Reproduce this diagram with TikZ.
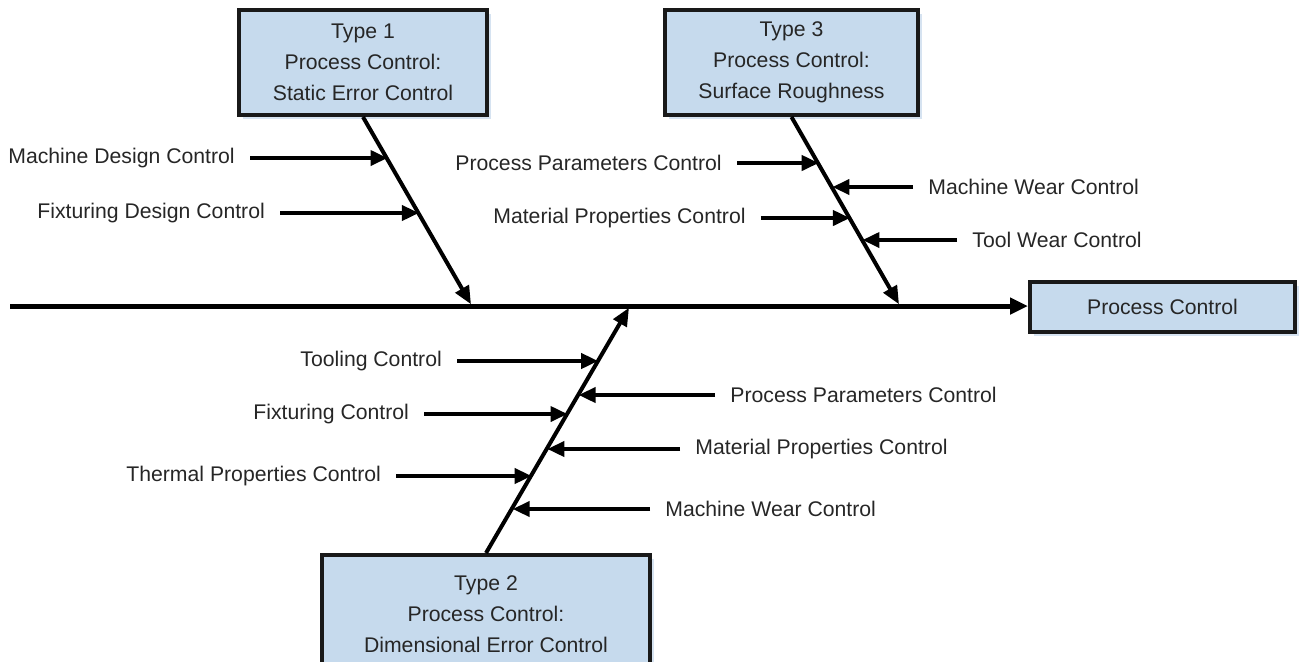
\documentclass[tikz,border=0pt]{standalone}
\usepackage{fontspec}
\setmainfont{Liberation Sans}
\usetikzlibrary{arrows.meta, positioning, calc, shadows}

\definecolor{boxblue}{RGB}{198,218,237}
\definecolor{shadeblue}{RGB}{214,227,241}

\begin{document}
\begin{tikzpicture}[x=0.5pt, y=-0.5pt, font=\fontsize{10.6}{15.5}\selectfont,
    box/.style={draw=black!90, line width=2pt, fill=boxblue, align=center, inner sep=0pt, text=black!85,
      drop shadow={shadow xshift=2pt, shadow yshift=-2pt, fill=shadeblue, opacity=1}},
    spine/.style={line width=2.5pt, -{Triangle[length=9pt,width=8pt]}},
    bone/.style={line width=2pt, shorten >=1pt, -{Triangle[length=9pt,width=7.5pt]}},
    twig/.style={line width=1.9pt, -{Triangle[length=8.5pt,width=7.5pt]}},
    lbl/.style={inner sep=0pt, anchor=west, text=black!85}]
  \useasboundingbox (0,0) rectangle (1299,661);

  \node[box, minimum width=124pt, minimum height=52.5pt] (a) at (363,62.5) {Type 1\\Process Control:\\Static Error Control};
  \node[box, minimum width=126.5pt, minimum height=52.5pt] (c) at (791.5,62.5) {Type 3\\Process Control:\\Surface Roughness};
  \node[box, minimum width=164pt, minimum height=59pt] (b) at (486,614) {Type 2\\Process Control:\\Dimensional Error Control};
  \node[box, minimum width=132.5pt, minimum height=25pt] (pc) at (1162.5,307) {Process Control};

  \coordinate (tail) at (10,306);
  \coordinate (ha) at (472,306);
  \coordinate (hb) at (630,306);
  \coordinate (hc) at (900,306);

  \draw[spine] (tail) -- (tail -| pc.west);
  \draw[bone] (a.south) -- (ha);
  \draw[bone] (c.south) -- (hc);
  \draw[bone] (b.north) -- (hb);

  \path (a.south) -- (ha) coordinate[pos=0.225] (a1) coordinate[pos=0.513] (a2);
  \path (c.south) -- (hc) coordinate[pos=0.251] (c1) coordinate[pos=0.377] (c2)
                          coordinate[pos=0.539] (c3) coordinate[pos=0.654] (c4);
  \path (b.north) -- (hb) coordinate[pos=0.779] (b1) coordinate[pos=0.643] (b2)
                          coordinate[pos=0.566] (b3) coordinate[pos=0.426] (b4)
                          coordinate[pos=0.317] (b5) coordinate[pos=0.185] (b6);

  \node[lbl] (la1) at (8,158) {Machine Design Control};
  \node[lbl] (la2) at (37,213) {Fixturing Design Control};
  \node[lbl] (lc1) at (455,163) {Process Parameters Control};
  \node[lbl] (lc2) at (928,187) {Machine Wear Control};
  \node[lbl] (lc3) at (493,218) {Material Properties Control};
  \node[lbl] (lc4) at (972,240) {Tool Wear Control};
  \node[lbl] (lb1) at (300,361) {Tooling Control};
  \node[lbl] (lb2) at (730,395) {Process Parameters Control};
  \node[lbl] (lb3) at (253,414) {Fixturing Control};
  \node[lbl] (lb4) at (695,449) {Material Properties Control};
  \node[lbl] (lb5) at (126,476) {Thermal Properties Control};
  \node[lbl] (lb6) at (665,509) {Machine Wear Control};

  \path[twig, shorten <=7.5pt]
    (la1.east) edge (la1.east -| a1)
    (la2.east) edge (la2.east -| a2)
    (lc1.east) edge (lc1.east -| c1)
    (lc2.west) edge (lc2.west -| c2)
    (lc3.east) edge (lc3.east -| c3)
    (lc4.west) edge (lc4.west -| c4)
    (lb1.east) edge (lb1.east -| b1)
    (lb2.west) edge (lb2.west -| b2)
    (lb3.east) edge (lb3.east -| b3)
    (lb4.west) edge (lb4.west -| b4)
    (lb5.east) edge (lb5.east -| b5)
    (lb6.west) edge (lb6.west -| b6);
\end{tikzpicture}
\end{document}
